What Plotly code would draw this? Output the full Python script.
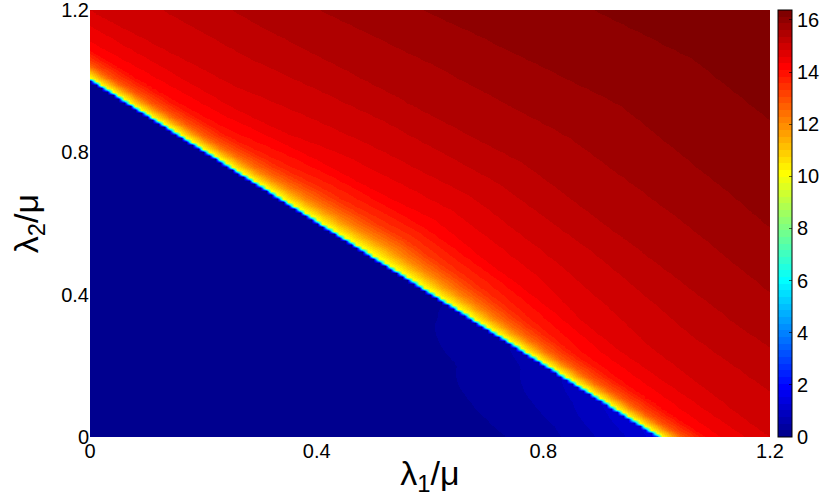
import numpy as np
import plotly.graph_objects as go

# ---------------- data ----------------
# sampling grid of the two normalised arrival rates
lam1 = np.round(np.arange(0, 121) * 0.01, 2)
lam2 = np.round(np.arange(0, 121) * 0.01, 2)

x_tick_vals = [0, 0.4, 0.8, 1.2]
x_tick_text = ["0", "0.4", "0.8", "1.2"]
y_tick_vals = [0, 0.4, 0.8, 1.2]
y_tick_text = ["0", "0.4", "0.8", "1.2"]
cbar_tick_vals = [0, 2, 4, 6, 8, 10, 12, 14, 16]

stability_edge = 1.0          # lambda1 + lambda2 where the value jumps up
z_max = 16.38                 # top of colour scale (max of the data)

# profile above the edge, along the plot edges (lambda1=0 or lambda2=0)
edge_excess = [0.0, 0.014, 0.045, 0.09, 0.20, 0.50, 0.80, 1.10, 1.40]
edge_level = [9.3, 10.3, 12.9, 14.2, 14.85, 15.5, 16.0, 16.3, 16.5]
# profile above the edge, along the diagonal lambda1 = lambda2
diag_excess = [0.0, 0.02, 0.06, 0.11, 0.19, 0.30, 0.50, 0.80, 1.10, 1.40]
diag_level = [9.3, 10.3, 12.0, 13.3, 14.2, 14.7, 15.3, 15.8, 16.1, 16.38]
angle_deg = [0, 15, 30, 45, 60, 75, 90]
diag_weight = [0, 0.2, 0.7, 1, 0.7, 0.2, 0]

# faint rise of the value just below the edge (lower right part)
below_lam2 = [0.0, 0.2, 0.4, 0.6, 1.0]
below_peak = [1.4, 0.65, 0.2, 0.0, 0.0]
below_deficit = [0.0, 0.05, 0.15, 0.30, 0.45]
below_frac = [1.0, 0.75, 0.40, 0.12, 0.0]

# ---------------- build the field from the read profiles ----------------
L1, L2 = np.meshgrid(lam1, lam2)
S = L1 + L2
theta = np.degrees(np.arctan2(L2, L1))
w = np.interp(theta, angle_deg, diag_weight)
exc = S - stability_edge
above = (1 - w) * np.interp(exc, edge_excess, edge_level) + w * np.interp(exc, diag_excess, diag_level)
below = np.interp(L2, below_lam2, below_peak) * np.interp(-exc, below_deficit, below_frac)
Z = np.where(exc > 1e-9, above, below)

# ---------------- MATLAB jet(64) colour map ----------------
def jet64():
    cols = []
    for i in range(1, 65):
        if i <= 8:
            r, g, b = 0, 0, 0.5 + i / 16
        elif i <= 24:
            r, g, b = 0, (i - 8) / 16, 1
        elif i <= 40:
            r, g, b = (i - 24) / 16, 1, 1 - (i - 24) / 16
        elif i <= 56:
            r, g, b = 1, 1 - (i - 40) / 16, 0
        else:
            r, g, b = 1 - (i - 56) / 16, 0, 0
        cols.append("rgb(%d,%d,%d)" % (round(r * 255), round(g * 255), round(b * 255)))
    scale = []
    for k, c in enumerate(cols):
        scale.append([k / 64, c])
        scale.append([(k + 1) / 64, c])
    return scale

font_family = "Liberation Sans, Arial, sans-serif"

fig = go.Figure(
    go.Heatmap(
        x=lam1,
        y=lam2,
        z=Z,
        zmin=0,
        zmax=z_max,
        zsmooth="best",
        colorscale=jet64(),
        colorbar=dict(
            x=1.0118,
            xanchor="left",
            xpad=0,
            ypad=0,
            y=0.5,
            yanchor="middle",
            len=1.0,
            lenmode="fraction",
            thickness=14,
            outlinewidth=1,
            outlinecolor="black",
            tickvals=cbar_tick_vals,
            ticks="inside",
            ticklen=3,
            tickcolor="rgba(0,0,0,0.6)",
            ticklabeloverflow="allow",
            tickfont=dict(family=font_family, size=20, color="black"),
        ),
        hoverinfo="skip",
    )
)

fig.update_layout(
    width=830,
    height=501,
    margin=dict(l=90, r=60, t=10, b=64, autoexpand=False),
    paper_bgcolor="white",
    plot_bgcolor="white",
    font=dict(family=font_family, color="black"),
    xaxis=dict(
        range=[0, 1.2],
        tickvals=x_tick_vals,
        ticktext=x_tick_text,
        ticks="",
        showgrid=False,
        zeroline=False,
        showline=False,
        automargin=False,
        ticklabeloverflow="allow",
        tickfont=dict(size=20),
        title=dict(text="λ<sub>1</sub>/μ", font=dict(size=34), standoff=0),
    ),
    yaxis=dict(
        range=[0, 1.2],
        tickvals=y_tick_vals,
        ticktext=y_tick_text,
        ticks="",
        showgrid=False,
        zeroline=False,
        showline=False,
        automargin=False,
        ticklabeloverflow="allow",
        tickfont=dict(size=20),
        title=dict(text="λ<sub>2</sub>/μ", font=dict(size=34), standoff=12),
    ),
)

fig.write_html(
    "out.html",
    config={"displayModeBar": False},
    post_script="document.body.style.margin='0';",
)
